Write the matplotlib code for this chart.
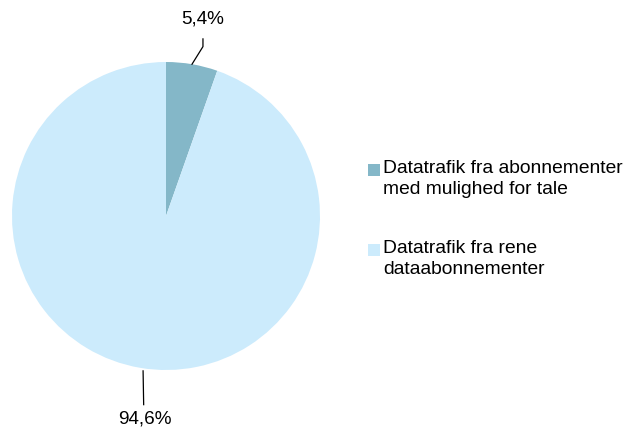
import matplotlib
matplotlib.use("Agg")
import matplotlib.pyplot as plt
import numpy as np
from matplotlib.patches import Rectangle

plt.rcParams['font.family'] = ['Liberation Sans', 'DejaVu Sans']

labels = ["Datatrafik fra abonnementer\nmed mulighed for tale",
          "Datatrafik fra rene\ndataabonnementer"]
values = [5.4, 94.6]
value_labels = ["5,4%", "94,6%"]
colors = ["#84B7C8", "#CCEBFC"]

W, H = 625, 431
fig = plt.figure(figsize=(W / 100, H / 100), dpi=100)

def fx(px):
    return px / W

def fy(py):
    return 1 - py / H

cx, cy, r = 166, 217, 154
ax = fig.add_axes([fx(cx - r), fy(cy + r), 2 * r / W, 2 * r / H])
wedges, _ = ax.pie(values, colors=colors, startangle=90, counterclock=False,
                   radius=1, wedgeprops=dict(linewidth=0))
ax.set_xlim(-1, 1)
ax.set_ylim(-1, 1)
ax.set_aspect('auto')
ax.axis('off')

# leader lines and value labels
label_pos = [(0.24, 1.285), (-0.14, -1.31)]
for w, lab, (lx, ly) in zip(wedges, value_labels, label_pos):
    ang = np.deg2rad((w.theta1 + w.theta2) / 2)
    ex, ey = np.cos(ang), np.sin(ang)
    if ey > 0:
        xs = [ex, lx, lx]
        ys = [ey, 1.10, 1.15]
    else:
        xs = [ex + 0.02, lx - 0.005]
        ys = [ey - 0.02, -1.225]
    ax.plot(xs, ys, color="#000000", lw=0.9, clip_on=False)
    ax.text(lx, ly, lab, ha='center', va='center', fontsize=13.6,
            color="#000000", clip_on=False)

# legend
entries = [(165, 160), (245, 240)]
for (sq_top, txt_top), lab, col in zip(entries, labels, colors):
    fig.patches.append(Rectangle((fx(368), fy(sq_top + 12)), 12 / W, 12 / H,
                                 transform=fig.transFigure, facecolor=col,
                                 edgecolor='none'))
    fig.text(fx(383), fy(txt_top), lab, ha='left', va='top', fontsize=13.9,
             color="#000000", linespacing=1.32)

fig.savefig("out.png", dpi=100, facecolor='white')
